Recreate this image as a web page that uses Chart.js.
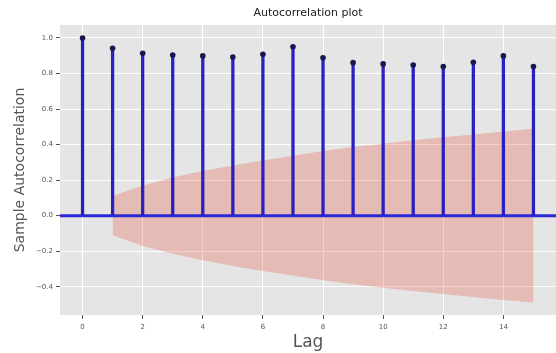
<!DOCTYPE html>
<html>
<head>
<meta charset="utf-8">
<script src="https://cdn.jsdelivr.net/npm/chart.js@4"></script>
<style>
  html, body { margin: 0; padding: 0; background: #fff; overflow: hidden; }
  #wrap { width: 556px; height: 353px; }
</style>
</head>
<body>
<div id="wrap"><canvas id="acfChart"></canvas></div>
<script>
// lags and sample autocorrelation
const lags = [0, 1, 2, 3, 4, 5, 6, 7, 8, 9, 10, 11, 12, 13, 14, 15];
const acf = [1.0, 0.942, 0.914, 0.904, 0.899, 0.893, 0.908, 0.951, 0.889, 0.861, 0.854, 0.848, 0.839, 0.863, 0.899, 0.839];

// confidence band half-width, lags 1..15
const bandLags = [1, 2, 3, 4, 5, 6, 7, 8, 9, 10, 11, 12, 13, 14, 15];
const bandHalf = [0.11, 0.17, 0.215, 0.251, 0.283, 0.311, 0.337, 0.364, 0.386, 0.405, 0.424, 0.441, 0.457, 0.474, 0.489];

const xTicks = [0, 2, 4, 6, 8, 10, 12, 14];
const yTicks = [-0.4, -0.2, 0.0, 0.2, 0.4, 0.6, 0.8, 1.0];
const xRange = [-0.75, 15.75];
const yRange = [-0.559, 1.073];

const tickGray = '#555555';

// grey panel behind the plot + title centred on the panel
const panelPlugin = {
    id: 'panel',
    beforeDraw(chart) {
        const { ctx, chartArea: a } = chart;
        ctx.save();
        ctx.fillStyle = '#E5E5E5';
        ctx.fillRect(a.left, a.top, a.right - a.left, a.bottom - a.top);
        ctx.restore();
    },
    afterDraw(chart) {
        const { ctx, chartArea: a } = chart;
        ctx.save();
        ctx.fillStyle = '#222222';
        ctx.font = '11px "DejaVu Sans"';
        ctx.textAlign = 'center';
        ctx.textBaseline = 'middle';
        ctx.fillText('Autocorrelation plot', (a.left + a.right) / 2, 13);
        ctx.restore();
    }
};

const ctx = document.getElementById('acfChart').getContext('2d');
new Chart(ctx, {
    type: 'scatter',
    data: {
        datasets: [
            {
                // markers on top of stems
                type: 'scatter',
                data: lags.map((l, i) => ({ x: l, y: acf[i] })),
                pointRadius: 2.8,
                pointBackgroundColor: '#18184f',
                pointBorderWidth: 0,
                order: 0
            },
            {
                type: 'bar',
                data: lags.map((l, i) => ({ x: l, y: acf[i] })),
                backgroundColor: '#2a1fc0',
                barThickness: 2.6,
                order: 1
            },
            {
                // horizontal line at zero
                type: 'line',
                data: xRange.map(x => ({ x: x, y: 0 })),
                borderColor: '#2a2ad8',
                borderWidth: 3,
                pointRadius: 0,
                order: 2
            },
            {
                type: 'line',
                data: bandLags.map((l, i) => ({ x: l, y: bandHalf[i] })),
                borderWidth: 0,
                borderColor: 'rgba(0,0,0,0)',
                pointRadius: 0,
                fill: '+1',
                backgroundColor: 'rgba(226, 74, 51, 0.27)',
                order: 3
            },
            {
                type: 'line',
                data: bandLags.map((l, i) => ({ x: l, y: -bandHalf[i] })),
                borderWidth: 0,
                borderColor: 'rgba(0,0,0,0)',
                pointRadius: 0,
                fill: false,
                order: 4
            }
        ]
    },
    options: {
        responsive: true,
        maintainAspectRatio: false,
        animation: false,
        layout: { autoPadding: false, padding: { top: 25, right: 0, left: 0, bottom: 0 } },
        plugins: {
            legend: { display: false },
            tooltip: { enabled: false }
        },
        scales: {
            x: {
                type: 'linear',
                min: xRange[0],
                max: xRange[1],
                offset: false,
                afterBuildTicks: s => { s.ticks = xTicks.map(v => ({ value: v })); },
                afterFit: s => { s.height = 38; s.paddingLeft = 0; s.paddingRight = 0; },
                border: { display: false },
                grid: { color: '#ffffff', lineWidth: 1, offset: false, tickLength: 4, tickColor: tickGray },
                ticks: { color: tickGray, font: { family: 'DejaVu Sans', size: 7 }, padding: 4, maxRotation: 0 },
                title: { display: true, text: 'Lag', color: tickGray, font: { family: 'DejaVu Sans', size: 17, lineHeight: 1 }, padding: { top: 0, bottom: 2 } }
            },
            y: {
                type: 'linear',
                min: yRange[0],
                max: yRange[1],
                afterBuildTicks: s => { s.ticks = yTicks.map(v => ({ value: v })); },
                afterFit: s => { s.width = 60; s.paddingTop = 0; s.paddingBottom = 0; },
                border: { display: false },
                grid: { color: '#ffffff', lineWidth: 1, tickLength: 4, tickColor: tickGray },
                ticks: {
                    color: tickGray,
                    font: { family: 'DejaVu Sans', size: 7 },
                    padding: 3,
                    callback: v => v.toFixed(1).replace('-', '\u2212')
                },
                title: { display: true, text: 'Sample Autocorrelation', color: tickGray, font: { family: 'DejaVu Sans', size: 14, lineHeight: 1 }, padding: { top: 13, bottom: 0 } }
            }
        }
    },
    plugins: [panelPlugin]
});
</script>
</body>
</html>
